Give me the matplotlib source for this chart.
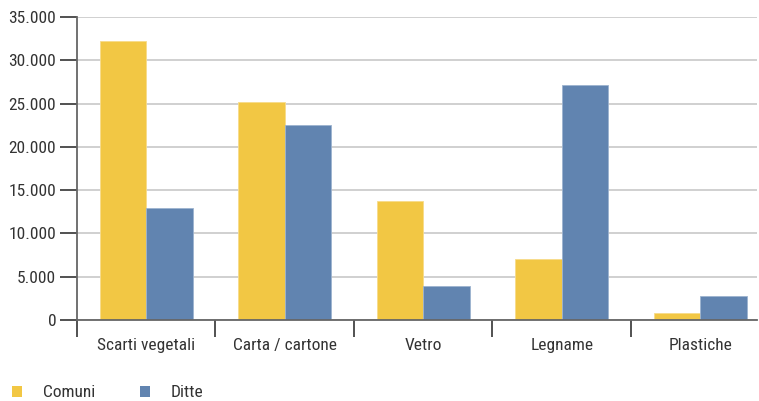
import matplotlib
matplotlib.use("Agg")
import matplotlib.pyplot as plt
from matplotlib.patches import Patch
from matplotlib.ticker import FuncFormatter, FixedLocator
import numpy as np

categories = ["Scarti vegetali", "Carta / cartone", "Vetro", "Legname", "Plastiche"]
comuni = [32200, 25200, 13700, 7000, 800]
ditte = [12900, 22500, 3900, 27100, 2800]
series_names = ["Comuni", "Ditte"]
yticks = [0, 5000, 10000, 15000, 20000, 25000, 30000, 35000]

plt.rcParams['font.family'] = ['Roboto Condensed', 'DejaVu Sans']

c_yellow = "#F2C744"
c_blue = "#6184B0"
txt_color = "#333333"
fs = 12.5

fig = plt.figure(figsize=(7.59, 4.01), dpi=100)
ax = fig.add_axes([77/759, 1-320/401, 680/759, 303/401])

x = np.arange(len(categories))
w = 0.335
ax.bar(x - w/2, comuni, w, color=c_yellow, edgecolor="#F7DC8A", linewidth=0.6, zorder=3)
ax.bar(x + w/2, ditte, w, color=c_blue, edgecolor="#9DB3CF", linewidth=0.6, zorder=3)

ax.yaxis.set_major_locator(FixedLocator(yticks))
ax.yaxis.set_major_formatter(FuncFormatter(lambda v, p: f"{int(v):,}".replace(",", ".")))
ax.grid(axis='y', color="#C8C8C8", linewidth=1.2, zorder=0)

ax.set_xticks(x)
ax.set_xticklabels(categories)
ax.tick_params(axis='x', which='major', length=0, pad=13, labelsize=fs, labelcolor=txt_color)
ax.set_xticks(np.arange(-0.5, 4.0, 1.0), minor=True)
ax.tick_params(axis='x', which='minor', length=12, width=1.2, color="#333333", direction='out')
ax.tick_params(axis='y', length=12, width=1.2, color="#333333", labelsize=fs, labelcolor=txt_color, pad=3)

ax.set_xlim(-0.5, 4.41)
ax.set_ylim(0, 35000)

for s in ["top", "right"]:
    ax.spines[s].set_visible(False)
ax.spines["left"].set_color("#666666")
ax.spines["left"].set_linewidth(1.3)
ax.spines["bottom"].set_color("#666666")
ax.spines["bottom"].set_linewidth(1.3)
ax.spines["bottom"].set_zorder(4)

handles = [Patch(facecolor=c_yellow, edgecolor="none"), Patch(facecolor=c_blue, edgecolor="none")]
fig.legend(handles, series_names, loc='lower left', bbox_to_anchor=(-0.005, -0.037), ncol=2,
           frameon=False, fontsize=fs, handlelength=0.6, handleheight=0.6,
           handletextpad=1.2, columnspacing=2.55, labelcolor=txt_color)

fig.savefig("out.png", dpi=100)
